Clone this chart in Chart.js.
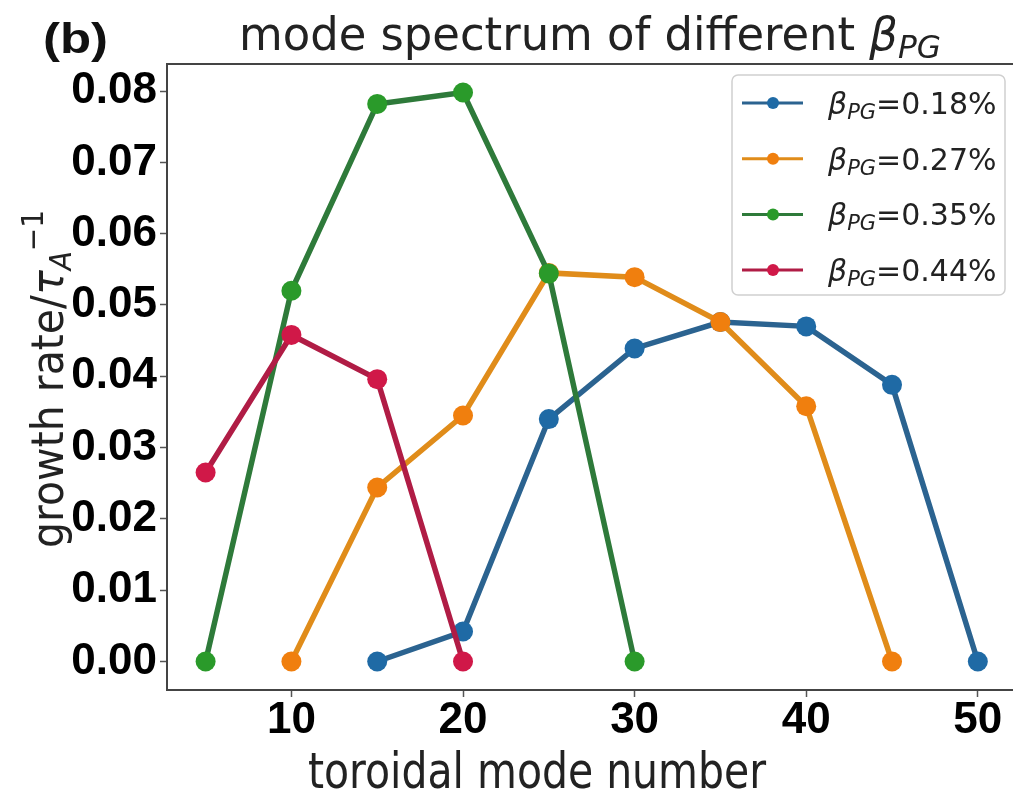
<!DOCTYPE html>
<html>
<head>
<meta charset="utf-8">
<script src="https://cdn.jsdelivr.net/npm/chart.js@4"></script>
<style>
  html, body { margin:0; padding:0; background:#fff; overflow:hidden; }
  #wrap { width:1013px; height:795px; }
</style>
</head>
<body>
<div id="wrap"><canvas id="chart" width="1013" height="795"></canvas></div>
<script>
// growth rate vs toroidal mode number, one series per beta_PG
const modes018 = [15, 20, 25, 30, 35, 40, 45, 50];
const rate018  = [0, 0.0042, 0.0340, 0.0439, 0.0476, 0.0470, 0.0388, 0];
const modes027 = [10, 15, 20, 25, 30, 35, 40, 45];
const rate027  = [0, 0.0244, 0.0345, 0.0545, 0.0539, 0.0476, 0.0358, 0];
const modes035 = [5, 10, 15, 20, 25, 30];
const rate035  = [0, 0.0520, 0.0782, 0.0798, 0.0544, 0];
const modes044 = [5, 10, 15, 20];
const rate044  = [0.0265, 0.0458, 0.0396, 0];

const betaLabels = ["0.18%", "0.27%", "0.35%", "0.44%"];
const lineColors  = ["#2b6390", "#e08c1a", "#2e7a3a", "#b01c45"];
const pointColors = ["#1f6aa5", "#f07f0e", "#2a9a2a", "#d01848"];

const xTicks = [10, 20, 30, 40, 50];
const yTicks = [0, 0.01, 0.02, 0.03, 0.04, 0.05, 0.06, 0.07, 0.08];

const allModes = [modes018, modes027, modes035, modes044];
const allRates = [rate018, rate027, rate035, rate044];

function pts(xs, ys){
  return xs.map((x,i)=>({x:x, y:ys[i]}));
}

// draw a row of text pieces, squeezed to a given width
function richText(ctx, parts, x, y, width){
  let total = 0;
  parts.forEach(p=>{ ctx.font = p.font; p.w = ctx.measureText(p.t).width; total += p.w; });
  let k = width ? width/total : 1;
  ctx.save();
  ctx.translate(x, y);
  ctx.scale(k, 1);
  ctx.textBaseline = "alphabetic";
  ctx.textAlign = "left";
  let cx = 0;
  parts.forEach(p=>{
    ctx.font = p.font;
    ctx.fillStyle = p.color || "#222";
    ctx.fillText(p.t, cx, p.dy || 0);
    cx += p.w;
  });
  ctx.restore();
}

const extras = {
  id: "extras",
  afterDraw(chart){
    const ctx = chart.ctx;
    const a = chart.chartArea;

    // top of the frame (right side is cropped off in the figure)
    ctx.save();
    ctx.strokeStyle = "#444";
    ctx.lineWidth = 2;
    ctx.beginPath();
    ctx.moveTo(a.left, a.top);
    ctx.lineTo(chart.width, a.top);
    ctx.stroke();
    ctx.restore();

    // panel tag + title
    richText(ctx, [{t:"(b)", font:"bold 42px 'Liberation Sans'", color:"#111"}], 43, 53, 65);
    richText(ctx, [
      {t:"mode spectrum of different ", font:"46px 'DejaVu Sans'"},
      {t:"β", font:"italic 46px 'DejaVu Sans'"},
      {t:"PG", font:"italic 32px 'DejaVu Sans'", dy:8}
    ], 239, 50, 702);

    // x axis title
    richText(ctx, [{t:"toroidal mode number", font:"50px 'DejaVu Sans'"}], 308, 788, 458);

    // y axis title, rotated
    ctx.save();
    ctx.translate(63, 548);
    ctx.rotate(-Math.PI/2);
    richText(ctx, [
      {t:"growth rate/", font:"44px 'DejaVu Sans'"},
      {t:"τ", font:"italic 44px 'DejaVu Sans'"},
      {t:"A", font:"italic 30px 'DejaVu Sans'", dy:8},
      {t:"−1", font:"30px 'DejaVu Sans'", dy:-20}
    ], 0, 0, 338);
    ctx.restore();

    // legend
    ctx.save();
    ctx.fillStyle = "rgba(255,255,255,0.85)";
    ctx.strokeStyle = "#d0d0d0";
    ctx.lineWidth = 1.5;
    ctx.beginPath();
    ctx.roundRect(732, 75, 273, 220, 6);
    ctx.fill();
    ctx.stroke();
    betaLabels.forEach((lab,i)=>{
      let cy = 103 + i*55.7;
      ctx.strokeStyle = lineColors[i];
      ctx.lineWidth = 3;
      ctx.beginPath();
      ctx.moveTo(742, cy);
      ctx.lineTo(803, cy);
      ctx.stroke();
      ctx.fillStyle = pointColors[i];
      ctx.beginPath();
      ctx.arc(773, cy, 6, 0, Math.PI*2);
      ctx.fill();
      richText(ctx, [
        {t:"β", font:"italic 30px 'DejaVu Sans'"},
        {t:"PG", font:"italic 21px 'DejaVu Sans'", dy:5},
        {t:"=" + lab, font:"30px 'DejaVu Sans'"}
      ], 828, cy + 11);
    });
    ctx.restore();
  }
};

const datasets = allModes.map((m,i)=>({
  label: betaLabels[i],
  data: pts(m, allRates[i]),
  borderColor: lineColors[i],
  borderWidth: 5.5,
  pointRadius: 10,
  pointBorderWidth: 0,
  pointBackgroundColor: pointColors[i],
  fill: false,
  tension: 0,
  clip: false,
  order: 4 - i
}));

const tickFont = {family:"'Liberation Sans', Arial, sans-serif", size:44, weight:"bold", lineHeight:1};

new Chart(document.getElementById("chart"), {
  type: "line",
  data: { datasets },
  options: {
    responsive: false,
    animation: false,
    devicePixelRatio: 1,
    layout: { autoPadding: false, padding: {left:0, top:64, right:0, bottom:0} },
    plugins: { legend:{display:false}, tooltip:{enabled:false} },
    scales: {
      x: {
        type: "linear",
        min: 2.75, max: 52.05,
        afterBuildTicks: s => { s.ticks = xTicks.map(v=>({value:v})); },
        afterFit: s => { s.height = 105; s.paddingLeft = 0; s.paddingRight = 0; },
        ticks: { font: tickFont, color:"#000", padding:2, maxRotation:0, autoSkip:false },
        grid: { drawOnChartArea:false, tickLength:7, color:"#555", tickWidth:1.5 },
        border: { color:"#444", width:2 }
      },
      y: {
        min: -0.004, max: 0.0838,
        afterBuildTicks: s => { s.ticks = yTicks.map(v=>({value:v})); },
        afterFit: s => { s.width = 167; s.paddingTop = 0; s.paddingBottom = 0; },
        ticks: { font: tickFont, color:"#000", padding:3, autoSkip:false, callback: v => v.toFixed(2) },
        grid: { drawOnChartArea:false, tickLength:7, color:"#555", tickWidth:1.5 },
        border: { color:"#444", width:2 }
      }
    }
  },
  plugins: [extras]
});
</script>
</body>
</html>
